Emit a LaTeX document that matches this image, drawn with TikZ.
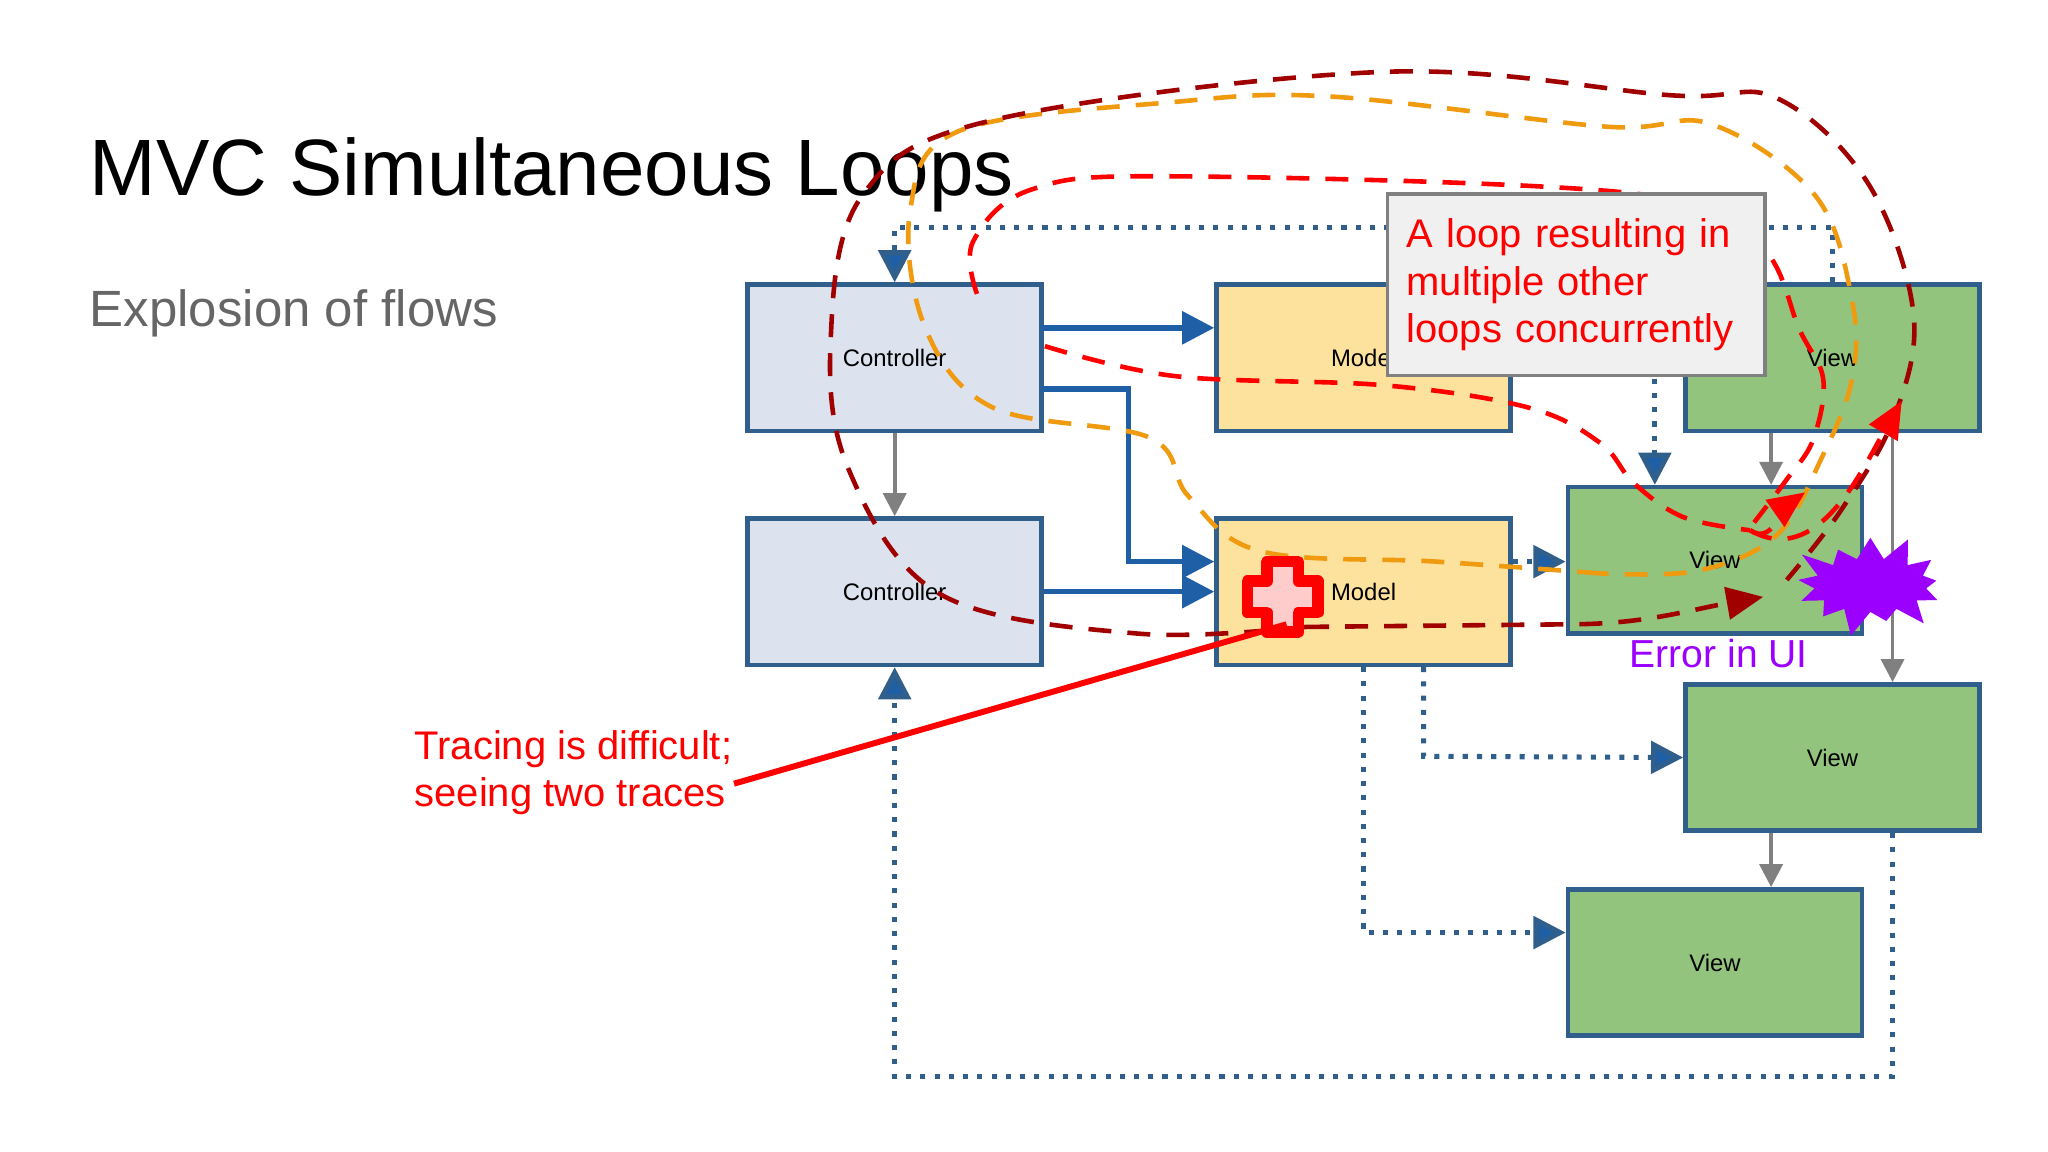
\documentclass[tikz,border=0pt]{standalone}
\usepackage{fontspec}
\setmainfont{Liberation Sans}
\usetikzlibrary{arrows.meta,shapes.symbols}
\definecolor{boxline}{HTML}{2F5F8A}
\definecolor{flowblue}{HTML}{1F5FA6}
\definecolor{ctrlfill}{HTML}{DCE3EF}
\definecolor{modelfill}{HTML}{FCE29D}
\definecolor{viewfill}{HTML}{93C47D}
\definecolor{darkloop}{HTML}{A00000}
\definecolor{orangeloop}{HTML}{F09A10}
\definecolor{errpurple}{HTML}{9B00FF}
\begin{document}
\begin{tikzpicture}[x=0.01cm, y=-0.01cm,
    box/.style = {draw=boxline, line width=1pt, minimum width=2.25cm, minimum height=1.12cm, font=\fontsize{5.2}{6}\selectfont},
    ctrl/.style = {box, fill=ctrlfill},
    model/.style = {box, fill=modelfill},
    view/.style = {box, fill=viewfill},
    flow/.style = {draw=flowblue, line width=1.2pt, -{Triangle[length=7pt,width=7pt]}},
    dotflow/.style = {draw=boxline, dotted, line width=1.1pt, arrows={-{Triangle[length=7pt,width=7pt,fill=flowblue]}}},
    grayflow/.style = {draw=gray, line width=0.8pt, -{Triangle[length=5pt,width=5pt]}},
    loop/.style = {dashed, line width=1pt, dash pattern=on 5pt off 3.5pt},
    redtext/.style = {text=red, font=\fontsize{8.7}{10.3}\selectfont, align=left}]
  \useasboundingbox (0,0) rectangle (1568,882);

  \node [anchor=base west, inner sep=0pt, font=\fontsize{17.4}{20}\selectfont] (title) at (68,150) {MVC Simultaneous Loops};
  \node [anchor=base west, inner sep=0pt, text=black!60, font=\fontsize{11.1}{13}\selectfont] (sub) at (68,250) {Explosion of flows};

  \node [ctrl] (c1) at (685,274) {Controller};
  \node [ctrl] (c2) at (685,453) {Controller};
  \node [model] (m1) at (1044,274) {Model};
  \node [model] (m2) at (1044,453) {Model};
  \node [view] (v1) at (1403,274) {View};
  \node [view] (v2) at (1313,429) {View};
  \node [view] (v3) at (1403,580) {View};
  \node [view] (v4) at (1313,737) {View};

  % solid flows
  \draw [flow] (797,251) -- (m1.west |- 0,251);
  \draw [flow] (797,298) -- (864,298) -- (864,430) -- (m2.west |- 0,430);
  \draw [flow] (c2) -- (m2.west |- c2);
  \draw [grayflow] (c1) -- (c2);
  \draw [grayflow] (v1.south -| 1356,0) -- (v2.north -| 1356,0);
  \draw [grayflow] (v1.south -| 1449,0) -- (v3.north -| 1449,0);
  \draw [grayflow] (v3.south -| 1356,0) -- (v4.north -| 1356,0);

  % dotted flows
  \draw [dotflow] (v1.north) -- (1403,174) -- (685,174) -- (c1.north);
  \draw [dotflow] (1267,290) -- (v2.north -| 1267,0);
  \draw [dotflow] (m2.east |- 0,430) -- (v2.west |- 0,430);
  \draw [dotflow] (m2.south -| 1090,0) -- (1090,579) -- (v3.west);
  \draw [dotflow] (m2.south -| 1044,0) -- (1044,714) -- (v4.west |- 0,714);
  \draw [dotflow] (v3.south -| 1449,0) -- (1449,824) -- (685,824) -- (c2.south);

  % loops
  \draw [loop, orangeloop] plot [smooth, tension=0.6] coordinates {(1225,439) (1100,430) (965,422) (910,380) (880,335) (760,312) (708,250) (697,160) (735,100) (900,78) (1020,74) (1230,97) (1310,95) (1390,150) (1418,230) (1418,290) (1395,350) (1360,410) (1300,437) (1225,439)};
  \draw [loop, darkloop] plot [smooth, tension=0.6] coordinates {(1000,480) (870,485) (720,455) (650,360) (636,260) (660,150) (760,92) (1060,55) (1280,73) (1360,75) (1430,140) (1465,240) (1450,320) (1410,390) (1368,444)};
  \draw [loop, darkloop, -{Triangle[length=8pt,width=7pt]}] (1000,480) -- (1200,478) to [out=0, in=190] (1350,457);
  \draw [loop, red] plot [smooth, tension=0.6] coordinates {(800,265) (900,288) (1060,295) (1170,312) (1225,339) (1251,370) (1289,396) (1340,406)};
  \draw [loop, red] plot [smooth, tension=0.6] coordinates {(748,225) (745,185) (790,145) (900,135) (1250,148) (1345,185) (1378,253) (1396,291) (1388,337) (1368,367) (1343,400)};
  \draw [loop, red, -{Triangle[length=8pt,width=7pt]}] (1340,406) to [out=-35, in=215] (1382,377);
  \draw [loop, red, -{Triangle[length=8pt,width=7pt]}] (1340,406) to [out=-30, in=240] (1456,307);

  % annotations
  \node [draw=gray, fill=black!6, line width=0.8pt, minimum width=2.89cm, minimum height=1.39cm, text width=2.6cm, redtext] (note) at (1207,218) {A loop resulting in\\multiple other\\loops concurrently};
  \node [starburst, starburst points=13, starburst point height=0.22cm, fill=errpurple, minimum width=1.3cm, minimum height=0.85cm, inner sep=0pt] (burst) at (1432,448) {};
  \node [text=errpurple, font=\fontsize{8.5}{10}\selectfont] (err) at (1316,500) {Error in UI};
  \draw [red, line width=2.5pt, line join=round, fill=red!20] (982,457) ++(-12,-27) -- ++(24,0) -- ++(0,15) -- ++(15,0) -- ++(0,24) -- ++(-15,0) -- ++(0,15) -- ++(-24,0) -- ++(0,-15) -- ++(-15,0) -- ++(0,-24) -- ++(15,0) -- cycle;
  \coordinate (bug) at (985,478);
  \node [redtext, anchor=north west] (trace) at (305,547) {Tracing is difficult;\\seeing two traces};
  \draw [red, line width=1.3pt] (562,600) -- (bug);
\end{tikzpicture}
\end{document}
